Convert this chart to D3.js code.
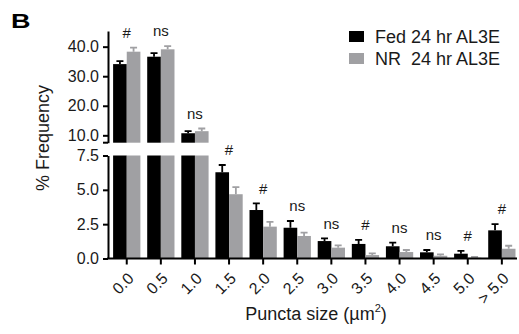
<!DOCTYPE html>
<html>
<head>
<meta charset="utf-8">
<script src="https://cdn.jsdelivr.net/npm/d3@7"></script>
<style>
  body { margin: 0; background: #fff; }
  svg { font-family: "Liberation Sans", Arial, sans-serif; }
</style>
</head>
<body>
<div id="chart"></div>
<script>
const categories = ['0.0', '0.5', '1.0', '1.5', '2.0', '2.5', '3.0', '3.5', '4.0', '4.5', '5.0', '> 5.0'];
const seriesNames = ['Fed 24 hr AL3E', 'NR\u00a0\u00a024 hr AL3E'];
const fedMean = [34.1, 36.6, 10.7, 6.28, 3.53, 2.24, 1.27, 1.06, 0.89, 0.45, 0.35, 2.05];
const fedErr = [1.0, 1.2, 0.7, 0.53, 0.49, 0.49, 0.2, 0.29, 0.26, 0.17, 0.2, 0.46];
const nrMean = [38.3, 39.1, 11.4, 4.68, 2.32, 1.64, 0.79, 0.25, 0.47, 0.2, 0.06, 0.71];
const nrErr = [1.4, 1.1, 0.9, 0.51, 0.34, 0.24, 0.17, 0.13, 0.15, 0.1, 0.05, 0.22];
const significance = ['#', 'ns', 'ns', '#', '#', 'ns', 'ns', '#', 'ns', 'ns', '#', '#'];
const lowTicks = [0, 2.5, 5, 7.5];
const highTicks = [10, 20, 30, 40];

const width = 519, height = 334;
const breakAt = 7.5;
const colors = ['#000000', '#a0a0a3'];
const textColor = '#1a1a1a';
const font = '"Liberation Sans", Arial, sans-serif';

const svg = d3.select('#chart').append('svg')
  .attr('width', width)
  .attr('height', height);

const x = d3.scaleBand().domain(categories).range([111.4, 517.2])
  .paddingInner(0.2).paddingOuter(0.05);
const xSub = d3.scaleBand().domain([0, 1]).range([0, x.bandwidth()]);

const yLow = d3.scaleLinear().domain([0, breakAt]).range([258.5, 155.5]);
const yHigh = d3.scaleLinear().domain([breakAt, 45.3]).range([142.7, 31]);
const yPos = v => v > breakAt ? yHigh(v) : yLow(v);

const rows = categories.map((c, i) => ({
  cat: c,
  sig: significance[i],
  vals: [
    { s: 0, mean: fedMean[i], err: fedErr[i] },
    { s: 1, mean: nrMean[i], err: nrErr[i] }
  ]
}));

const axisX = 108;

// bars
const groups = svg.append('g').selectAll('g')
  .data(rows).join('g')
  .attr('transform', d => `translate(${x(d.cat)},0)`);

groups.selectAll('rect.low')
  .data(d => d.vals).join('rect')
  .attr('class', 'low')
  .attr('x', d => xSub(d.s))
  .attr('width', xSub.bandwidth())
  .attr('y', d => yLow(Math.min(d.mean, breakAt)))
  .attr('height', d => yLow(0) - yLow(Math.min(d.mean, breakAt)))
  .attr('fill', d => colors[d.s]);

groups.selectAll('rect.high')
  .data(d => d.vals.filter(v => v.mean > breakAt)).join('rect')
  .attr('class', 'high')
  .attr('x', d => xSub(d.s))
  .attr('width', xSub.bandwidth())
  .attr('y', d => yHigh(d.mean))
  .attr('height', d => yHigh(breakAt) - yHigh(d.mean))
  .attr('fill', d => colors[d.s]);

// error bars (upper only)
const capW = 7;
groups.selectAll('path.err')
  .data(d => d.vals).join('path')
  .attr('class', 'err')
  .attr('fill', 'none')
  .attr('stroke', d => colors[d.s])
  .attr('stroke-width', 1.8)
  .attr('d', d => {
    const cx = xSub(d.s) + xSub.bandwidth() / 2;
    const y0 = yPos(d.mean), y1 = yPos(d.mean + d.err);
    return `M${cx},${y0}V${y1}M${cx - capW / 2},${y1}H${cx + capW / 2}`;
  });

// significance labels
groups.append('text')
  .attr('x', x.bandwidth() / 2)
  .attr('y', d => d3.min(d.vals, v => yPos(v.mean + v.err)) - 15)
  .attr('dy', '0.35em')
  .attr('text-anchor', 'middle')
  .attr('font-size', 15)
  .attr('fill', textColor)
  .text(d => d.sig);

// y axes
function styleAxis(g) {
  g.select('.domain').attr('stroke', '#000').attr('stroke-width', 2);
  g.selectAll('.tick line').attr('stroke', '#000').attr('stroke-width', 2);
  g.selectAll('.tick text').attr('font-size', 16).attr('fill', textColor)
    .attr('font-family', font);
}

svg.append('g')
  .attr('transform', `translate(${axisX},0)`)
  .call(d3.axisLeft(yLow).tickValues(lowTicks).tickFormat(d3.format('.1f'))
    .tickSize(5).tickSizeOuter(0).tickPadding(4))
  .call(styleAxis);

svg.append('g')
  .attr('transform', `translate(${axisX},0)`)
  .call(d3.axisLeft(yHigh).tickValues(highTicks).tickFormat(d3.format('.1f'))
    .tickSize(5).tickSizeOuter(0).tickPadding(4))
  .call(styleAxis)
  .append('line')
  .attr('x1', -5).attr('x2', 0)
  .attr('y1', yHigh(breakAt)).attr('y2', yHigh(breakAt))
  .attr('stroke', '#000').attr('stroke-width', 2);

// x axis
const xAxis = svg.append('g')
  .attr('transform', `translate(0,${yLow(0)})`)
  .call(d3.axisBottom(x).tickSize(6).tickSizeOuter(0));
xAxis.select('.domain').attr('stroke', '#000').attr('stroke-width', 2)
  .attr('d', `M${axisX - 1},0H${width - 2}`);
xAxis.selectAll('.tick line').attr('stroke', '#000').attr('stroke-width', 2);
xAxis.selectAll('.tick text')
  .attr('font-size', 16)
  .attr('fill', textColor)
  .attr('font-family', font)
  .attr('text-anchor', 'end')
  .attr('dy', null)
  .attr('y', 0)
  .attr('transform', 'translate(8,21) rotate(-45)');

// axis titles
svg.append('text')
  .attr('transform', `translate(49,138) rotate(-90)`)
  .attr('text-anchor', 'middle')
  .attr('font-size', 18)
  .attr('fill', textColor)
  .text('% Frequency');

const xt = svg.append('text')
  .attr('x', 316).attr('y', 320)
  .attr('text-anchor', 'middle')
  .attr('font-size', 18)
  .attr('fill', textColor);
xt.append('tspan').text('Puncta size (\u00b5m');
xt.append('tspan').attr('font-size', 11).attr('dy', -8).text('2');
xt.append('tspan').attr('dy', 8).text(')');

// panel letter
svg.append('text')
  .attr('transform', 'translate(11,28) scale(1.35,1)')
  .attr('font-size', 20)
  .attr('font-weight', 'bold')
  .attr('fill', '#000')
  .text('B');

// legend
const legend = svg.append('g').attr('transform', 'translate(349,31)');
const li = legend.selectAll('g').data(seriesNames).join('g')
  .attr('transform', (d, i) => `translate(0,${i * 22})`);
li.append('rect').attr('width', 15).attr('height', 11)
  .attr('fill', (d, i) => colors[i]);
li.append('text').attr('x', 26).attr('y', 12)
  .attr('font-size', 18).attr('fill', textColor)
  .text(d => d);
</script>
</body>
</html>
